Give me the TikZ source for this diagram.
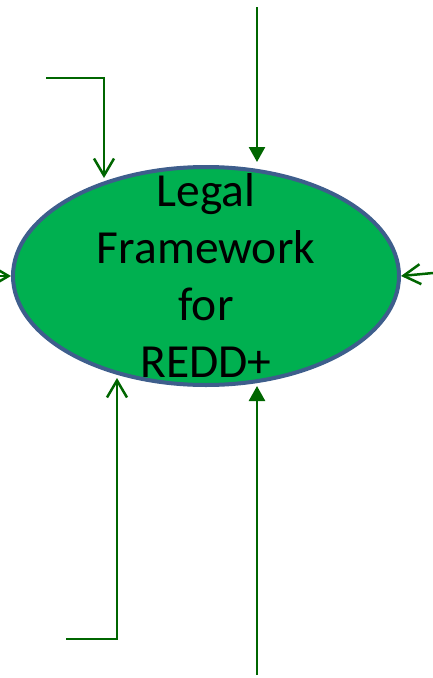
\documentclass[tikz,border=0pt]{standalone}
\usepackage{fontspec}
\setmainfont{Carlito}
\usetikzlibrary{arrows.meta,shapes.geometric}
\definecolor{flowgreen}{RGB}{0,102,0}
\definecolor{ovalfill}{RGB}{0,176,80}
\definecolor{ovalline}{RGB}{62,94,140}
\begin{document}
\begin{tikzpicture}[x=1pt,y=-1pt,
  feed/.style={draw=flowgreen,line width=2.5pt,-{Straight Barb[length=17pt,width=20pt,line width=2.5pt]}},
  mainfeed/.style={draw=flowgreen,line width=2.5pt,-{Triangle[length=15pt,width=16pt]}},
  oval/.style={ellipse,draw=ovalline,line width=4pt,fill=ovalfill,
    minimum width=386pt,minimum height=218pt,inner sep=0pt},
  caption/.style={font=\fontsize{47.5}{57}\selectfont,anchor=base,inner sep=0pt}]
\useasboundingbox (0,0) rectangle (433,678);

% central oval with its four-line title
\node[oval] (e) at (206,276) {};
\node[caption] (t1) at (206,206) {Legal};
\node[caption] (t2) at (206,263) {Framework};
\node[caption] (t3) at (206,320) {for};
\node[caption] (t4) at (206,377) {REDD+};

% start points of the incoming flows
\coordinate (topsrc) at (257,7);
\coordinate (botsrc) at (257,675);
\coordinate (tlsrc) at (46,78);
\coordinate (blsrc) at (66,639);
\coordinate (lsrc) at (0,276);
\coordinate (rsrc) at (433,273);

% points on the oval where the elbow flows arrive
\coordinate (tltip) at ([shift={(-102pt,98pt)}]e.center);
\coordinate (bltip) at ([shift={(-89pt,-102pt)}]e.center);

\draw[mainfeed] (topsrc) -- ([yshift=3pt]topsrc |- e.north);
\draw[mainfeed] (botsrc) -- ([yshift=1pt]botsrc |- e.south);
\draw[feed] (tlsrc) -| (tltip);
\draw[feed] (blsrc) -| (bltip);
\draw[feed] (lsrc) -- (e.west);
\draw[feed] (rsrc) -- (e.east);
\end{tikzpicture}
\end{document}
